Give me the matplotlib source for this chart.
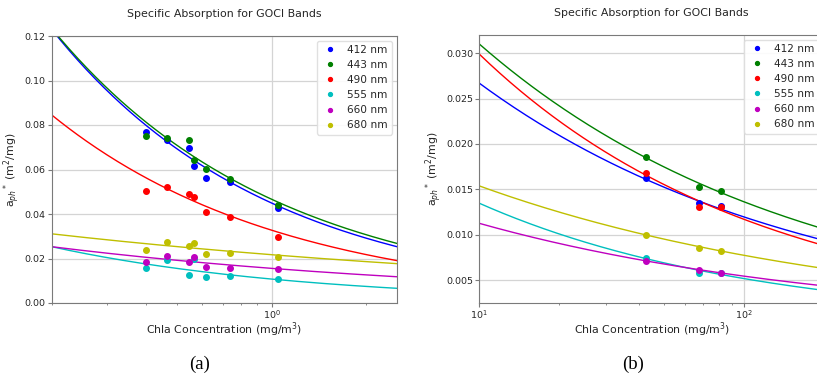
import numpy as np
import matplotlib
matplotlib.use("Agg")
import matplotlib.pyplot as plt
from matplotlib.ticker import NullFormatter

bands = ["412 nm", "443 nm", "490 nm", "555 nm", "660 nm", "680 nm"]
colors = ["b", "g", "r", "c", "m", "y"]

# Panel (a) data
chl_a = [0.40, 0.466, 0.546, 0.568, 0.617, 0.736, 1.045]
aph_a = {
    "412 nm": [0.0770, 0.0733, 0.0698, 0.0617, 0.0563, 0.0545, 0.0428],
    "443 nm": [0.0751, 0.0740, 0.0733, 0.0643, 0.0601, 0.0556, 0.0440],
    "490 nm": [0.0503, 0.0523, 0.0490, 0.0478, 0.0410, 0.0385, 0.0298],
    "555 nm": [0.0157, 0.0193, 0.0124, 0.0196, 0.0118, 0.0120, 0.0108],
    "660 nm": [0.0186, 0.0211, 0.0184, 0.0208, 0.0163, 0.0157, 0.0153],
    "680 nm": [0.0238, 0.0274, 0.0256, 0.0268, 0.0220, 0.0223, 0.0208],
}
# power-law fit a* = A * chl^-B
fitA_a = [0.0449, 0.0466, 0.0327, 0.01075, 0.01556, 0.0217]
fitB_a = [0.626, 0.605, 0.590, 0.532, 0.302, 0.2234]

# Panel (b) data
chl_b = [42.7, 67.7, 81.7]
aph_b = {
    "412 nm": [0.01628, 0.01346, 0.01320],
    "443 nm": [0.01853, 0.01522, 0.01478],
    "490 nm": [0.01677, 0.01302, 0.01300],
    "555 nm": [0.00746, 0.00580, 0.00580],
    "660 nm": [0.00713, 0.00610, 0.00580],
    "680 nm": [0.01000, 0.00850, 0.00823],
}
fitA_b = [0.05967, 0.07066, 0.07654, 0.03517, 0.02333, 0.03062]
fitB_b = [0.3494, 0.3577, 0.4083, 0.4171, 0.3169, 0.2993]

W, H = 817, 374
fig = plt.figure(figsize=(W / 100, H / 100), dpi=100)

ax1 = fig.add_axes([51.7 / W, 1 - 303 / H, (397 - 51.7) / W, (303 - 36) / H])
ax2 = fig.add_axes([479.3 / W, 1 - 302.7 / H, (824 - 479.3) / W, (302.7 - 35) / H])

TXT = "#262626"

def draw(ax, chl, aph, fa, fb, xlim, ylim):
    xs = np.logspace(np.log10(xlim[0]), np.log10(xlim[1]), 200)
    for i, b in enumerate(bands):
        ax.plot(chl, aph[b], "o", color=colors[i], ms=4.0, label=b, zorder=3)
    for i, b in enumerate(bands):
        ax.plot(xs, fa[i] * xs ** (-fb[i]), "-", color=colors[i], lw=1.0, zorder=2)
    ax.set_xscale("log")
    ax.set_xlim(*xlim)
    ax.set_ylim(*ylim)
    ax.grid(True, which="major", color="#d4d4d4", lw=0.9)
    ax.set_axisbelow(True)
    ax.xaxis.set_minor_formatter(NullFormatter())
    for s in ax.spines.values():
        s.set_color("#7a7a7a")
    ax.tick_params(which="major", length=2.6, pad=1.6)
    ax.tick_params(which="minor", length=1.6)
    ax.tick_params(which="both", colors="#7a7a7a", labelcolor=TXT, labelsize=6.8)
    ax.set_title("Specific Absorption for GOCI Bands", fontsize=7.9, color=TXT, pad=14)
    ax.set_xlabel("Chla Concentration (mg/m$^3$)", fontsize=7.9, color=TXT, labelpad=-0.5)
    ax.set_ylabel(r"a$_{ph}$$^*$ (m$^2$/mg)", fontsize=7.9, color=TXT, labelpad=2.0)
    leg = ax.legend(loc="upper right", fontsize=7.6, handlelength=1.7, handletextpad=0.8,
                    labelspacing=0.48, markerscale=0.7, framealpha=0.9, edgecolor="#dddddd",
                    borderaxespad=0.45)
    for t in leg.get_texts():
        t.set_color(TXT)

draw(ax1, chl_a, aph_a, fitA_a, fitB_a, (0.2, 2.5), (0.0, 0.12))
draw(ax2, chl_b, aph_b, fitA_b, fitB_b, (10, 200), (0.0025, 0.032))
ax1.set_yticks([0.0, 0.02, 0.04, 0.06, 0.08, 0.10, 0.12])
ax2.set_yticks([0.005, 0.010, 0.015, 0.020, 0.025, 0.030])

fig.text(200 / W, 1 - 364 / H, "(a)", fontsize=13.5, family="Liberation Serif", ha="center", va="center")
fig.text(632.7 / W, 1 - 364 / H, "(b)", fontsize=13.5, family="Liberation Serif", ha="center", va="center")

fig.savefig("out.png", dpi=100)
